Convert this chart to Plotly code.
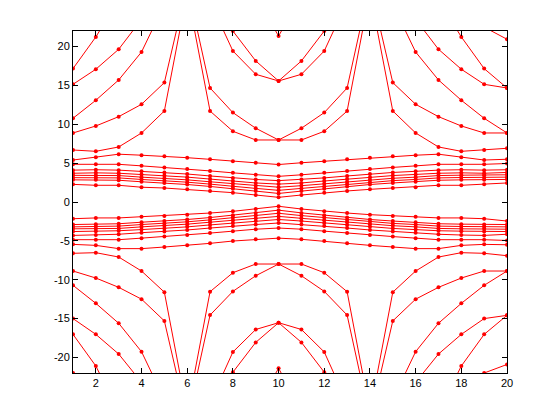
import plotly.graph_objects as go

X = list(range(1, 21))

# upper half (positive) series
O0_up = [22.5, 28, 32, 34, 35, 36, 35, 34, 32, 30, 32, 34, 35, 36, 35, 34, 32, 28, 22.5, 20.94]
O1_up = [17.16, 21.24, 26, 30, 33, 35, 34, 32, 26.4, 21.36, 26.4, 32, 34, 35, 33, 30, 26, 21.24, 17.16, 14.67]
O2_up = [15.14, 17.08, 19.65, 23.5, 28, 32, 28, 22.0, 18.15, 15.57, 18.15, 22.0, 28, 32, 28, 23.5, 19.65, 17.08, 15.14, 14.67]
O3_up = [10.77, 13.09, 15.70, 19.30, 25.4, 30, 25.8, 19.43, 16.43, 15.57, 16.43, 19.43, 25.8, 30, 25.4, 19.30, 15.70, 13.09, 10.77, 8.88]
O4_up = [8.88, 9.78, 10.98, 12.57, 15.36, 28, 14.67, 11.5, 9.49, 7.98, 9.49, 11.5, 14.67, 28, 15.36, 12.57, 10.98, 9.78, 8.88, 8.88]
O5_up = [6.69, 6.52, 7.08, 8.88, 11.71, 27, 11.7, 9.1, 7.98, 7.98, 7.98, 9.1, 11.7, 27, 11.71, 8.88, 7.08, 6.52, 6.69, 6.91]
B1_up = [5.40, 5.75, 6.15, 6.02, 5.90, 5.70, 5.49, 5.25, 5.05, 4.82, 5.05, 5.25, 5.49, 5.70, 5.90, 6.02, 6.15, 5.75, 5.40, 5.50]
B2_up = [4.85, 4.85, 4.85, 4.65, 4.45, 4.25, 4.00, 3.75, 3.50, 3.30, 3.50, 3.75, 4.00, 4.25, 4.45, 4.65, 4.85, 4.85, 4.85, 4.95]
B3_up = [4.10, 4.15, 4.10, 3.95, 3.80, 3.60, 3.35, 3.10, 2.90, 2.75, 2.90, 3.10, 3.35, 3.60, 3.80, 3.95, 4.10, 4.15, 4.10, 4.15]
B4_up = [3.70, 3.75, 3.70, 3.55, 3.40, 3.20, 2.95, 2.70, 2.45, 2.30, 2.45, 2.70, 2.95, 3.20, 3.40, 3.55, 3.70, 3.75, 3.70, 3.80]
B5_up = [3.43, 3.45, 3.40, 3.20, 3.05, 2.85, 2.60, 2.35, 2.10, 1.90, 2.10, 2.35, 2.60, 2.85, 3.05, 3.20, 3.40, 3.45, 3.43, 3.50]
B6_up = [3.13, 3.15, 3.10, 2.90, 2.75, 2.55, 2.30, 2.00, 1.75, 1.50, 1.75, 2.00, 2.30, 2.55, 2.75, 2.90, 3.10, 3.15, 3.13, 3.20]
B7_up = [2.85, 2.85, 2.80, 2.60, 2.45, 2.25, 2.00, 1.70, 1.40, 1.10, 1.40, 1.70, 2.00, 2.25, 2.45, 2.60, 2.80, 2.85, 2.85, 2.90]
B8_up = [2.27, 2.15, 2.15, 1.90, 1.80, 1.63, 1.42, 1.20, 0.90, 0.60, 0.90, 1.20, 1.42, 1.63, 1.80, 1.90, 2.15, 2.15, 2.27, 2.45]

# lower half (negative) series
O0_lo = [-22.0, -28, -32, -34, -35, -36, -35, -34, -32, -30, -32, -34, -35, -36, -35, -34, -32, -28, -22.0, -20.9]
O1_lo = [-17.03, -21.1, -27, -30, -33, -35, -34, -32, -26.4, -21.4, -26.4, -32, -34, -35, -33, -30, -27, -21.1, -17.03, -14.58]
O2_lo = [-15.0, -17.03, -19.56, -23.2, -28, -32, -28, -21.9, -18.06, -15.53, -18.06, -21.9, -28, -32, -28, -23.2, -19.56, -17.03, -15.0, -14.58]
O3_lo = [-10.72, -13.04, -15.6, -19.26, -25.4, -30, -25.8, -19.3, -16.4, -15.53, -16.4, -19.3, -25.8, -30, -25.4, -19.26, -15.6, -13.04, -10.72, -8.88]
O4_lo = [-8.88, -9.78, -10.98, -12.5, -15.3, -28, -14.55, -11.5, -9.49, -7.98, -9.49, -11.5, -14.55, -28, -15.3, -12.5, -10.98, -9.78, -8.88, -8.88]
O5_lo = [-6.60, -6.52, -7.08, -8.88, -11.6, -27, -11.54, -9.1, -7.98, -7.98, -7.98, -9.1, -11.54, -27, -11.6, -8.88, -7.08, -6.52, -6.60, -6.91]
B1_lo = [-5.45, -5.58, -6.00, -6.00, -5.79, -5.58, -5.32, -5.02, -4.80, -4.65, -4.80, -5.02, -5.32, -5.58, -5.79, -6.00, -6.00, -5.58, -5.45, -5.50]
B2_lo = [-4.85, -4.85, -4.85, -4.65, -4.45, -4.25, -4.00, -3.75, -3.50, -3.35, -3.50, -3.75, -4.00, -4.25, -4.45, -4.65, -4.85, -4.85, -4.85, -4.95]
B3_lo = [-4.30, -4.25, -4.15, -3.95, -3.80, -3.60, -3.35, -3.10, -2.90, -2.70, -2.90, -3.10, -3.35, -3.60, -3.80, -3.95, -4.15, -4.25, -4.30, -4.15]
B4_lo = [-3.80, -3.75, -3.70, -3.55, -3.40, -3.20, -2.95, -2.70, -2.45, -2.25, -2.45, -2.70, -2.95, -3.20, -3.40, -3.55, -3.70, -3.75, -3.80, -3.80]
B5_lo = [-3.45, -3.45, -3.40, -3.20, -3.05, -2.85, -2.60, -2.35, -2.10, -1.85, -2.10, -2.35, -2.60, -2.85, -3.05, -3.20, -3.40, -3.45, -3.45, -3.50]
B6_lo = [-3.20, -3.15, -3.10, -2.90, -2.75, -2.55, -2.30, -2.00, -1.75, -1.45, -1.75, -2.00, -2.30, -2.55, -2.75, -2.90, -3.10, -3.15, -3.20, -3.20]
B7_lo = [-2.90, -2.85, -2.80, -2.60, -2.45, -2.25, -2.00, -1.70, -1.40, -1.05, -1.40, -1.70, -2.00, -2.25, -2.45, -2.60, -2.80, -2.85, -2.90, -2.90]
B8_lo = [-2.15, -2.05, -2.05, -1.90, -1.80, -1.63, -1.42, -1.20, -0.90, -0.55, -0.90, -1.20, -1.42, -1.63, -1.80, -1.90, -2.05, -2.05, -2.15, -2.45]

SERIES = [O0_up, O1_up, O2_up, O3_up, O4_up, O5_up, B1_up, B2_up, B3_up, B4_up,
          B5_up, B6_up, B7_up, B8_up,
          O0_lo, O1_lo, O2_lo, O3_lo, O4_lo, O5_lo, B1_lo, B2_lo, B3_lo, B4_lo,
          B5_lo, B6_lo, B7_lo, B8_lo]

X_TICKS = [2, 4, 6, 8, 10, 12, 14, 16, 18, 20]
Y_TICKS = [-20, -15, -10, -5, 0, 5, 10, 15, 20]

fig = go.Figure()
for ys in SERIES:
    fig.add_trace(go.Scatter(
        x=X, y=ys, mode="lines+markers",
        line=dict(color="#ff0000", width=1),
        marker=dict(color="#ff0000", size=4, symbol="circle"),
        showlegend=False, hoverinfo="skip",
    ))

axis_common = dict(
    showline=True, linecolor="black", linewidth=1, mirror="ticks",
    ticks="inside", ticklen=5, tickcolor="black", tickwidth=1,
    showgrid=False, zeroline=False,
    tickfont=dict(family="Liberation Sans, Arial, sans-serif", size=11, color="black"),
)

fig.update_xaxes(range=[1, 20], tickvals=X_TICKS, ticktext=[str(v) for v in X_TICKS], **axis_common)
fig.update_yaxes(range=[-22, 22], tickvals=Y_TICKS, ticktext=[str(v) for v in Y_TICKS], **axis_common)

fig.update_layout(
    width=560, height=420,
    margin=dict(l=73, r=53, t=31, b=47),
    paper_bgcolor="white", plot_bgcolor="white",
    showlegend=False,
)

fig.write_html("out.html", config={"displayModeBar": False, "staticPlot": True},
               post_script="document.body.style.margin='0';")
